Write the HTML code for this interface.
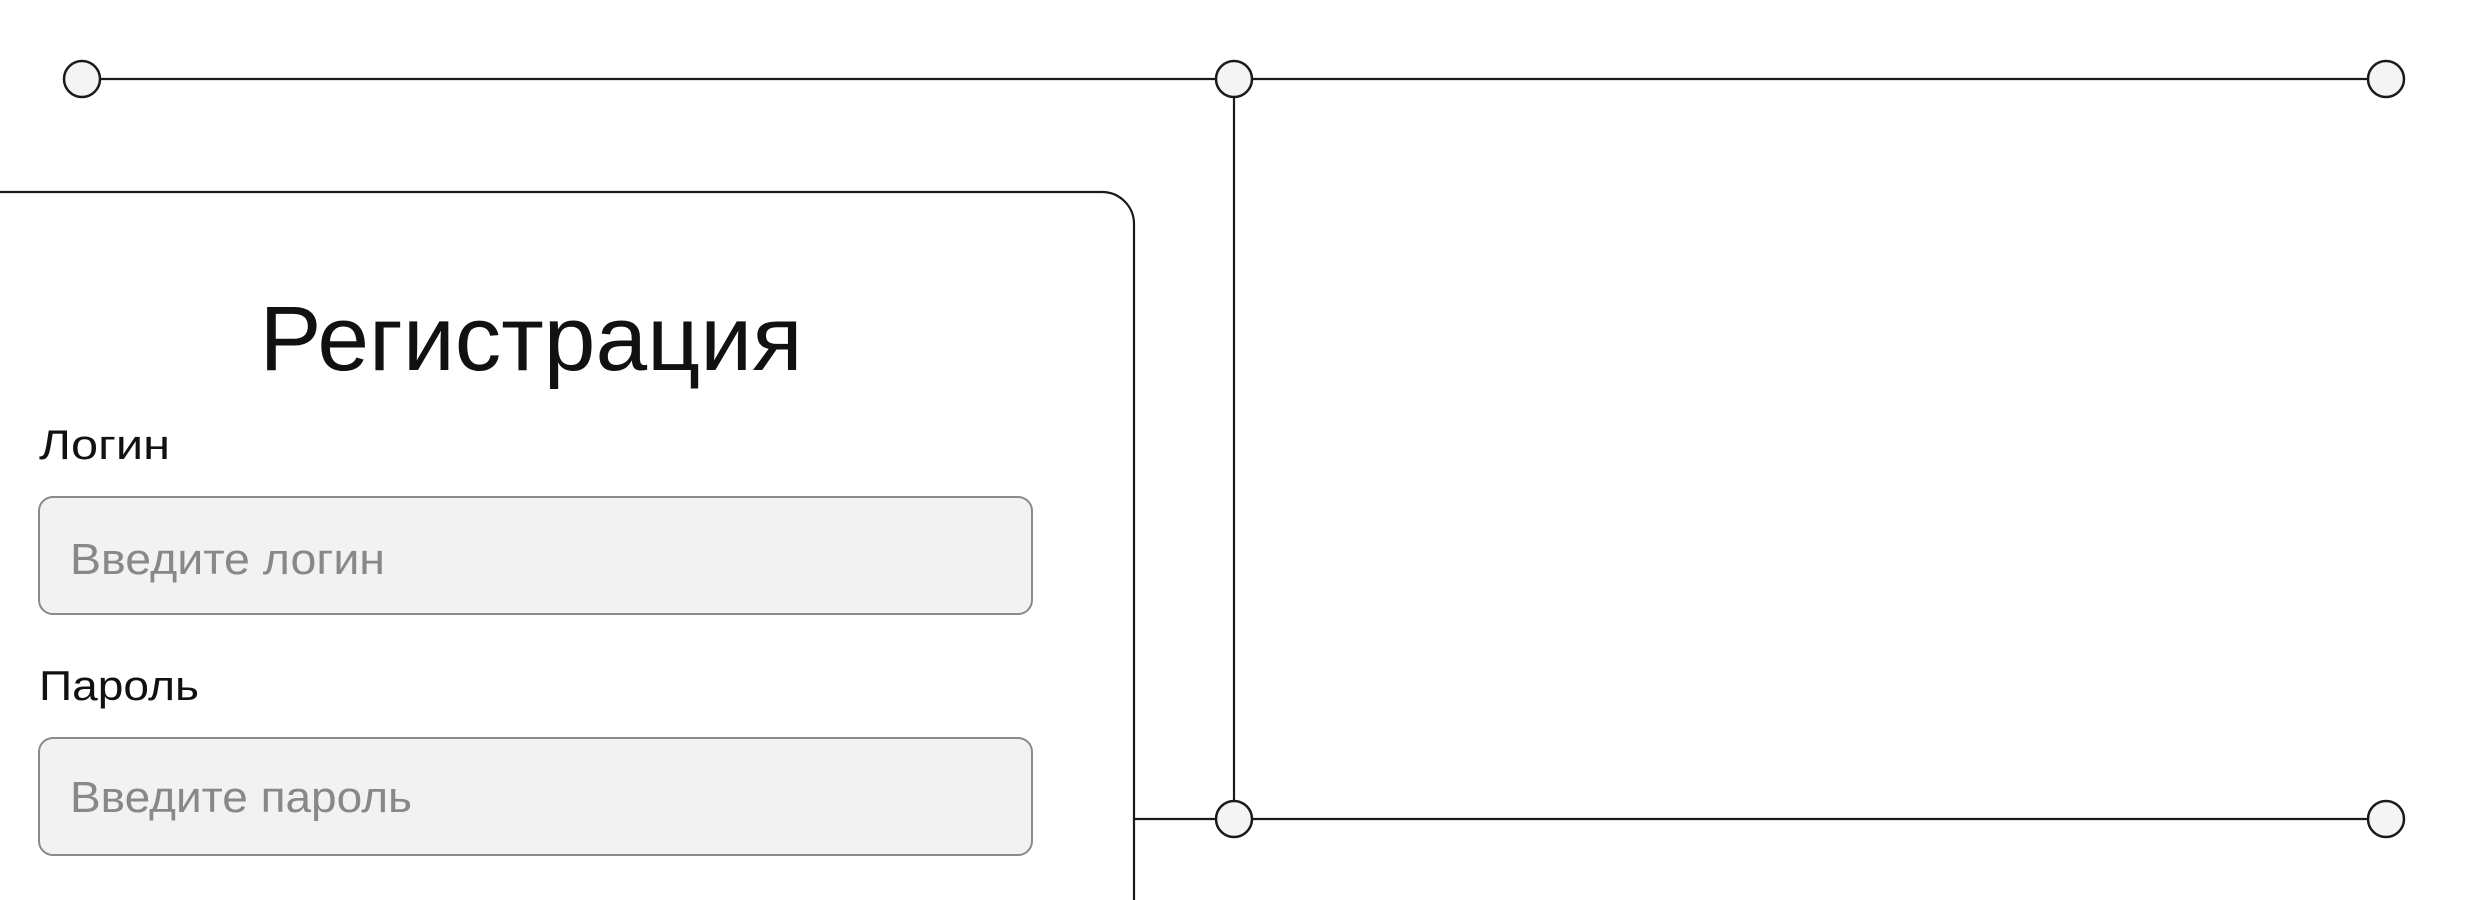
<!DOCTYPE html>
<html><head><meta charset="utf-8"><style>html,body{margin:0;padding:0;background:#fff;}svg{display:block}</style></head>
<body>
<svg width="2466" height="900" viewBox="0 0 2466 900" xmlns="http://www.w3.org/2000/svg" font-family="Liberation Sans, sans-serif">
<g stroke="#1a1a1a" stroke-width="2.2" fill="none">
<line x1="100" y1="79" x2="2368" y2="79"/>
<line x1="1234" y1="97" x2="1234" y2="801"/>
<line x1="1134" y1="819" x2="2368" y2="819"/>
<path d="M-10 192 H1102 A32 32 0 0 1 1134 224 V910"/>
</g>
<g stroke="#1a1a1a" stroke-width="2.5" fill="#f4f4f4">
<circle cx="82" cy="79" r="18"/>
<circle cx="1234" cy="79" r="18"/>
<circle cx="2386" cy="79" r="18"/>
<circle cx="1234" cy="819" r="18"/>
<circle cx="2386" cy="819" r="18"/>
</g>
<text x="531" y="370" text-anchor="middle" font-size="92" fill="#111" textLength="543" lengthAdjust="spacingAndGlyphs">Регистрация</text>
<text x="39" y="459" font-size="42" fill="#111" textLength="131" lengthAdjust="spacingAndGlyphs">Логин</text>
<rect x="39" y="497" width="993" height="117" rx="14" fill="#f2f2f2" stroke="#8a8a8a" stroke-width="2"/>
<text x="70" y="574" font-size="44" fill="#888" textLength="315" lengthAdjust="spacingAndGlyphs">Введите логин</text>
<text x="39" y="700" font-size="42" fill="#111" textLength="160" lengthAdjust="spacingAndGlyphs">Пароль</text>
<rect x="39" y="738" width="993" height="117" rx="14" fill="#f2f2f2" stroke="#8a8a8a" stroke-width="2"/>
<text x="70" y="812" font-size="44" fill="#888" textLength="342" lengthAdjust="spacingAndGlyphs">Введите пароль</text>
</svg>
</body></html>
